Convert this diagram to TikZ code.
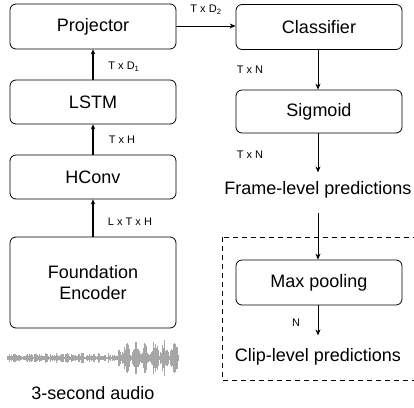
\documentclass[tikz,border=0pt]{standalone}
\usepackage{fontspec}
\setmainfont{Liberation Sans}
\usetikzlibrary{arrows.meta}

\begin{document}
\begin{tikzpicture}[x=1pt,y=-1pt]
		\tikzset{blk/.style={draw,rounded corners=6pt,minimum width=166pt,line width=0.8pt,font=\fontsize{18}{21}\selectfont,align=center}};
		\tikzset{dim/.style={font=\fontsize{11}{13}\selectfont,inner sep=1pt}};
		\tikzset{big/.style={font=\fontsize{18}{21}\selectfont,inner sep=1pt}};
		\tikzset{fat/.style={-{Stealth[length=5pt,width=4.5pt]},line width=1.6pt}};
		\tikzset{thin/.style={-{Stealth[length=6pt,width=5pt]},line width=0.8pt}};
		\tikzset{wave/.style={color=black!35,line width=0.6pt}};
		
		\useasboundingbox (0,0) rectangle (414,407);
		
		% left column
		\node (proj) at (93,26.5) [blk,minimum height=45pt]{Projector};
		\node (lstm) at (93,102) [blk,minimum height=44pt]{LSTM};
		\node (hconv) at (93,177) [blk,minimum height=44pt]{HConv};
		\node (enc) at (93,282.5) [blk,minimum height=91pt]{Foundation\\Encoder};
		\node (audio) at (93,393) [big]{3-second audio};
		
		\pgfmathsetseed{7}
		\draw [wave] (7,358)--(178,358);
		\foreach \i in {0,...,190}{
			\pgfmathsetmacro{\xx}{7+\i*0.9}
			\pgfmathsetmacro{\env}{(\xx<118) ? 2+3.5*abs(sin(\i*31)) : 5+13*abs(sin(\i*17))}
			\pgfmathsetmacro{\aa}{\env*(0.35+0.65*rnd)}
			\draw [wave] (\xx,358-\aa)--(\xx,358+\aa);
		}
		
		\draw [fat] (enc.north)--(hconv.south);
		\draw [fat] (hconv.north)--(lstm.south);
		\draw [fat] (lstm.north)--(proj.south);
		\node (d1) at (124,67) [dim]{T x D\textsubscript{1}};
		\node (dh) at (122,140) [dim]{T x H};
		\node (dl) at (130,222) [dim]{L x T x H};
		
		% right column
		\node (cls) at (319,27) [blk,minimum height=45pt]{Classifier};
		\node (sig) at (319,111.5) [blk,minimum height=43pt]{Sigmoid};
		\node (frame) at (318,190) [big]{Frame-level predictions};
		\node (pool) at (319,282.5) [blk,minimum height=45pt]{Max pooling};
		\node (clip) at (318,357) [big]{Clip-level predictions};
		
		\draw [thin] (proj.east|-0,26)--(cls.west|-0,26);
		\node (d2) at (206,10) [dim]{T x D\textsubscript{2}};
		\draw [thin] (cls.south-|318,0)--(sig.north-|318,0);
		\node (n1) at (250,70) [dim]{T x N};
		\draw [thin,shorten >=8pt] (sig.south-|318,0)--(frame.north);
		\node (n2) at (250,155) [dim]{T x N};
		\draw [thin,shorten <=13pt] (frame.south)--(pool.north-|318,0);
		\draw [thin,shorten >=12pt] (pool.south-|318,0)--(clip.north);
		\node (n3) at (296,323) [dim]{N};
		
		\draw [dashed,dash pattern=on 5pt off 4pt,line width=0.8pt] (222,237) rectangle (420,380);
\end{tikzpicture}
\end{document}
